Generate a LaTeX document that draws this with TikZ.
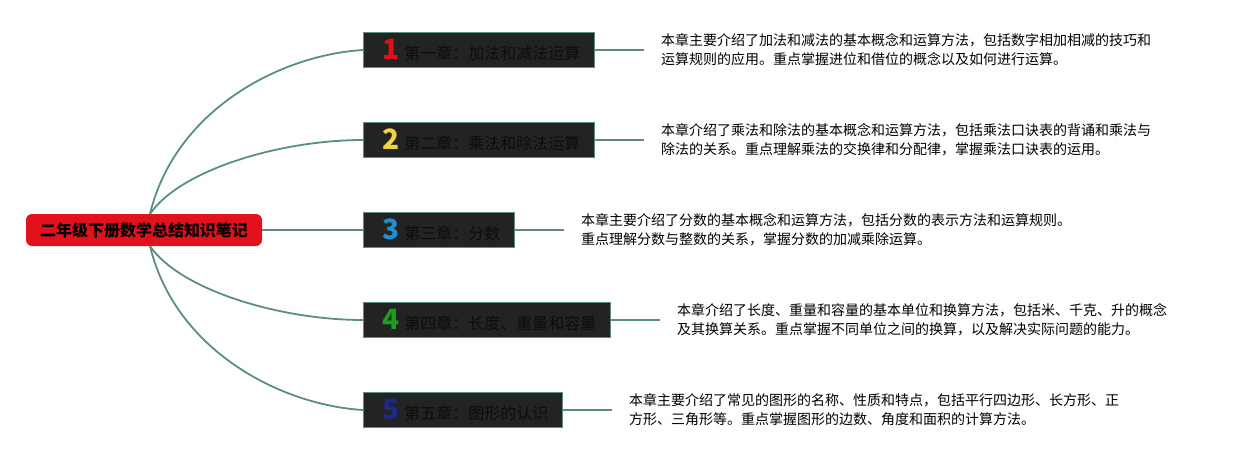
\documentclass[tikz,border=0pt]{standalone}
\usepackage{fontspec}
\usepackage{xcolor}
\usepackage{tikz}
\usetikzlibrary{positioning}
\newfontfamily\cjk{Noto Sans CJK SC}
\definecolor{branchgreen}{HTML}{5B8F7C}
\definecolor{rootred}{HTML}{E3111B}
\definecolor{boxdark}{HTML}{232323}
\definecolor{boxtext}{HTML}{0C0C0C}
\definecolor{numred}{HTML}{E0101A}
\definecolor{numyellow}{HTML}{F2D33C}
\definecolor{numblue}{HTML}{1E8FD6}
\definecolor{numgreen}{HTML}{1E9A1E}
\definecolor{numnavy}{HTML}{1C2A8A}
\newcommand{\chapnum}[2]{\hspace{5pt}{\fontsize{28pt}{28pt}\selectfont\bfseries\color{#1}#2}\hspace{5pt}}

\begin{document}
\begin{tikzpicture}[x=1pt, y=-1pt]
            \useasboundingbox (0,0) rectangle (1237,460);
            \node[fill=rootred, rounded corners=6pt, minimum width=236pt, minimum height=32pt, inner sep=0pt,
                font=\cjk\bfseries\fontsize{16pt}{16pt}\selectfont] at (144,230) (root) {二年级下册数学总结知识笔记};
            \begin{scope}[every node/.style={draw=branchgreen,
                fill=boxdark,
                text=boxtext,
                line width=0.8pt,
                minimum height=35pt,
                inner ysep=0pt,
                inner xsep=14pt,
                anchor=west,
                font=\cjk\fontsize{16pt}{16pt}\selectfont}]
                \node at (363,50) (ch1) {\chapnum{numred}{1}第一章：加法和减法运算\hspace{3pt}};
                \node at (363,140) (ch2) {\chapnum{numyellow}{2}第二章：乘法和除法运算\hspace{3pt}};
                \node at (363,230) (ch3) {\chapnum{numblue}{3}第三章：分数\hspace{3pt}};
                \node at (363,320) (ch4) {\chapnum{numgreen}{4}第四章：长度、重量和容量\hspace{3pt}};
                \node at (363,410) (ch5) {\chapnum{numnavy}{5}第五章：图形的认识\hspace{3pt}};
            \end{scope}
            \begin{scope}[every node/.style={inner sep=0pt, align=left, anchor=west,
                font=\cjk\fontsize{14pt}{19pt}\selectfont}]
                \coordinate[right=49pt of ch1] (end1);
                \coordinate[right=49pt of ch2] (end2);
                \coordinate[right=49pt of ch3] (end3);
                \coordinate[right=49pt of ch4] (end4);
                \coordinate[right=49pt of ch5] (end5);
                \node[right=17pt of end1] (desc1) {本章主要介绍了加法和减法的基本概念和运算方法，包括数字相加相减的技巧和\\运算规则的应用。重点掌握进位和借位的概念以及如何进行运算。};
                \node[right=17pt of end2] (desc2) {本章介绍了乘法和除法的基本概念和运算方法，包括乘法口诀表的背诵和乘法与\\除法的关系。重点理解乘法的交换律和分配律，掌握乘法口诀表的运用。};
                \node[right=17pt of end3] (desc3) {本章主要介绍了分数的基本概念和运算方法，包括分数的表示方法和运算规则。\\重点理解分数与整数的关系，掌握分数的加减乘除运算。};
                \node[right=17pt of end4] (desc4) {本章介绍了长度、重量和容量的基本单位和换算方法，包括米、千克、升的概念\\及其换算关系。重点掌握不同单位之间的换算，以及解决实际问题的能力。};
                \node[right=17pt of end5] (desc5) {本章主要介绍了常见的图形的名称、性质和特点，包括平行四边形、长方形、正\\方形、三角形等。重点掌握图形的边数、角度和面积的计算方法。};
            \end{scope}
            \coordinate (top) at (150,214);
            \coordinate (bot) at (150,246);
            \draw[branchgreen, line width=1.8pt] (top) .. controls (175,110) and (280,55) .. (ch1.west);
            \draw[branchgreen, line width=1.8pt] (top) .. controls (180,170) and (280,140) .. (ch2.west);
            \draw[branchgreen, line width=1.8pt] (root.east) -- (ch3.west);
            \draw[branchgreen, line width=1.8pt] (bot) .. controls (180,290) and (280,320) .. (ch4.west);
            \draw[branchgreen, line width=1.8pt] (bot) .. controls (175,350) and (280,405) .. (ch5.west);
            \foreach \i in {1,...,5}
                \draw[branchgreen, line width=1.8pt] (ch\i.east) -- (end\i);
        \end{tikzpicture}
\end{document}
